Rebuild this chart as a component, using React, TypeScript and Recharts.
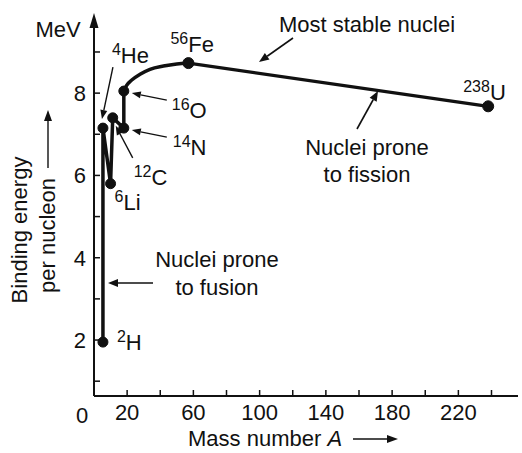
import React from 'react';
import { LineChart, Line, XAxis, YAxis, LabelList } from 'recharts';

// ---- data ----
const lightA = [5.4, 5.4, 10, 11.3, 18, 18];
const lightBE = [1.95, 7.15, 5.8, 7.4, 7.15, 8.05];
const lightMass = ['2', '4', '6', '12', '14', '16'];
const lightSym = ['H', 'He', 'Li', 'C', 'N', 'O'];

const curveA = [18, 19.7, 22.8, 27.8, 33.8, 41.9, 50, 57];
const curveBE = [8.05, 8.19, 8.32, 8.46, 8.58, 8.66, 8.71, 8.73];

const heavyA = [57, 238];
const heavyBE = [8.73, 7.68];
const heavyMass = ['56', '238'];
const heavySym = ['Fe', 'U'];

const xTicks = [0, 20, 40, 60, 80, 100, 120, 140, 160, 180, 200, 220, 240];
const xTickLabels = [0, 20, 60, 100, 140, 180, 220];
const yTicks = [1, 2, 3, 4, 5, 6, 7, 8, 9];
const yTickLabels = [2, 4, 6, 8];

const lightData = lightA.map((a, i) => ({ a, be: lightBE[i] }));
const curveData = curveA.map((a, i) => ({ a, be: curveBE[i] }));
const heavyData = heavyA.map((a, i) => ({ a, be: heavyBE[i] }));

// ---- layout / style ----
const FONT = '"Liberation Sans", Arial, Helvetica, sans-serif';
const INK = '#111';
const FS = 22;
const SUP = 16;

type IsoLayout = { dx: number; dy: number; arrow?: [number, number, number, number] };
const isoLayout: Record<string, IsoLayout> = {
  H: { dx: 14, dy: 8 },
  He: { dx: 9, dy: -65, arrow: [10, -61, -1, -9] },
  Li: { dx: 4, dy: 26 },
  C: { dx: 21, dy: 67, arrow: [20, 40, 3, 8] },
  N: { dx: 49, dy: 27, arrow: [43, 9, 8, 2] },
  O: { dx: 48, dy: 27, arrow: [43, 9, 8, 2] },
  Fe: { dx: -18, dy: -11 },
  U: { dx: -25, dy: -6 },
};

function Arrow({ x1, y1, x2, y2, len = 10, half = 4, w = 1.6 }: any) {
  const ang = Math.atan2(y2 - y1, x2 - x1);
  const bx = x2 - len * Math.cos(ang);
  const by = y2 - len * Math.sin(ang);
  const px = -Math.sin(ang) * half;
  const py = Math.cos(ang) * half;
  return (
    <g>
      <line x1={x1} y1={y1} x2={bx} y2={by} stroke={INK} strokeWidth={w} />
      <polygon points={`${x2},${y2} ${bx + px},${by + py} ${bx - px},${by - py}`} fill={INK} />
    </g>
  );
}

function makeIsoLabel(masses: string[], syms: string[]) {
  return (props: any) => {
    const { x, y, index } = props;
    if (x == null || y == null) return null;
    const sym = syms[index];
    const L = isoLayout[sym];
    if (!L) return null;
    return (
      <g>
        <text x={x + L.dx} y={y + L.dy} fontFamily={FONT} fill={INK} fontSize={FS}>
          <tspan fontSize={SUP} dy={-8}>{masses[index]}</tspan>
          <tspan dy={8}>{sym}</tspan>
        </text>
        {L.arrow && (
          <Arrow x1={x + L.arrow[0]} y1={y + L.arrow[1]} x2={x + L.arrow[2]} y2={y + L.arrow[3]} len={9} half={3.5} w={1.4} />
        )}
      </g>
    );
  };
}

const XTick = (props: any) => {
  const { x, y, payload } = props;
  const v = payload.value;
  return (
    <g>
      {v !== 0 && <line x1={x} y1={y} x2={x} y2={y - 6} stroke={INK} strokeWidth={1.5} />}
      {xTickLabels.includes(v) && (
        <text x={v === 0 ? x - 12 : x} y={v === 0 ? y + 27 : y + 24} textAnchor="middle" fontFamily={FONT} fontSize={FS} fill={INK}>
          {v}
        </text>
      )}
    </g>
  );
};

const YTick = (props: any) => {
  const { x, y, payload } = props;
  const v = payload.value;
  return (
    <g>
      <line x1={x} y1={y} x2={x + 6} y2={y} stroke={INK} strokeWidth={1.5} />
      {yTickLabels.includes(v) && (
        <text x={x - 8} y={y} dy="0.36em" textAnchor="end" fontFamily={FONT} fontSize={FS} fill={INK}>
          {v}
        </text>
      )}
    </g>
  );
};

function Overlay() {
  const t = { fontFamily: FONT, fontSize: FS, fill: INK } as const;
  return (
    <svg width={522} height={453} style={{ position: 'absolute', left: 0, top: 0, pointerEvents: 'none' }}>
      {/* y-axis arrow head and unit */}
      <polygon points="94,13 89.5,28 98.5,28" fill={INK} />
      <text x={58} y={37} textAnchor="middle" {...t}>MeV</text>
      {/* y title */}
      <text transform="translate(27,230) rotate(-90)" textAnchor="middle" {...t}>Binding energy</text>
      <text transform="translate(55,293) rotate(-90)" textAnchor="start" {...t}>per nucleon</text>
      <Arrow x1={48} y1={168} x2={48} y2={110} len={11} half={4} w={1.4} />
      {/* x title */}
      <text x={188} y={446} {...t}>
        Mass number <tspan fontStyle="italic">A</tspan>
      </text>
      <Arrow x1={353} y1={439} x2={398} y2={439} len={11} half={4} w={1.4} />
      {/* annotations */}
      <text x={367} y={32} textAnchor="middle" {...t}>Most stable nuclei</text>
      <Arrow x1={293} y1={38} x2={259} y2={62} len={10} half={4} w={1.6} />
      <text x={367} y={155} textAnchor="middle" {...t}>Nuclei prone</text>
      <text x={367} y={182} textAnchor="middle" {...t}>to fission</text>
      <Arrow x1={357} y1={129} x2={378} y2={91} len={10} half={4} w={1.6} />
      <text x={217} y={267} textAnchor="middle" {...t}>Nuclei prone</text>
      <text x={217} y={295} textAnchor="middle" {...t}>to fusion</text>
      <Arrow x1={153} y1={283} x2={108} y2={283} len={10} half={4} w={1.6} />
    </svg>
  );
}

export default function App() {
  return (
    <div style={{ position: 'absolute', left: 0, top: 0, width: 522, height: 453, background: '#fff' }}>
      <LineChart width={522} height={453} margin={{ top: 17, right: 4, bottom: 0, left: 0 }}>
        <XAxis
          type="number"
          dataKey="a"
          domain={[0, 256]}
          ticks={xTicks}
          interval={0}
          allowDataOverflow
          height={57}
          tickSize={0}
          tickMargin={0}
          tickLine={false}
          tick={<XTick />}
          axisLine={{ stroke: INK, strokeWidth: 2 }}
        />
        <YAxis
          type="number"
          dataKey="be"
          domain={[0.64, 9.85]}
          ticks={yTicks}
          interval={0}
          allowDataOverflow
          width={94}
          tickSize={0}
          tickMargin={0}
          tickLine={false}
          tick={<YTick />}
          axisLine={{ stroke: INK, strokeWidth: 2 }}
        />
        <Line
          data={curveData}
          dataKey="be"
          type="monotoneX"
          stroke={INK}
          strokeWidth={3.5}
          dot={false}
          isAnimationActive={false}
        />
        <Line
          data={lightData}
          dataKey="be"
          type="linear"
          stroke={INK}
          strokeWidth={3.5}
          strokeLinejoin="round"
          dot={{ r: 5, fill: INK, stroke: INK, strokeWidth: 1 }}
          isAnimationActive={false}
        >
          <LabelList dataKey="be" content={makeIsoLabel(lightMass, lightSym)} />
        </Line>
        <Line
          data={heavyData}
          dataKey="be"
          type="linear"
          stroke={INK}
          strokeWidth={3.2}
          dot={{ r: 5.5, fill: INK, stroke: INK, strokeWidth: 1 }}
          isAnimationActive={false}
        >
          <LabelList dataKey="be" content={makeIsoLabel(heavyMass, heavySym)} />
        </Line>
      </LineChart>
      <Overlay />
    </div>
  );
}
